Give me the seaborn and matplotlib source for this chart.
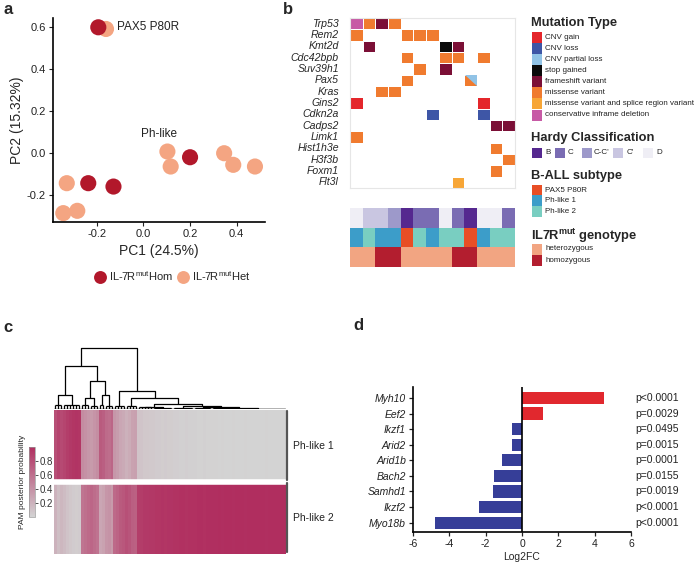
import numpy as np
import pandas as pd
import matplotlib
matplotlib.use('Agg')
import matplotlib.pyplot as plt
import seaborn as sns
import matplotlib.transforms as mtransforms
from matplotlib.colors import ListedColormap, LinearSegmentedColormap
from matplotlib.patches import Rectangle, Polygon

# ---------------- data ----------------
# panel a: PCA
pc1 = [-0.160, -0.328, -0.343, -0.283, 0.103, 0.117, 0.346, 0.385, 0.478, -0.193, -0.236, -0.128, 0.200]
pc2 = [0.589, -0.142, -0.284, -0.273, 0.008, -0.063, 0.000, -0.055, -0.063, 0.597, -0.142, -0.158, -0.019]
geno_a = ['Het', 'Het', 'Het', 'Het', 'Het', 'Het', 'Het', 'Het', 'Het', 'Hom', 'Hom', 'Hom', 'Hom']

# panel b: mutation matrix
genes_b = ['Trp53', 'Rem2', 'Kmt2d', 'Cdc42bpb', 'Suv39h1', 'Pax5', 'Kras', 'Gins2', 'Cdkn2a',
           'Cadps2', 'Limk1', 'Hist1h3e', 'H3f3b', 'Foxm1', 'Flt3l']
mut_types = ['CNV gain', 'CNV loss', 'CNV partial loss', 'stop gained', 'frameshift variant',
             'missense variant', 'missense variant and splice region variant',
             'conservative inframe deletion']
mut_colors = ['#E4262B', '#3E56A6', '#91C3E6', '#0A0A0A', '#7B0F36', '#F07B2F', '#F7A637', '#C75AA5']
mutations = [
    ('Trp53', 0, 'conservative inframe deletion'), ('Trp53', 1, 'missense variant'),
    ('Trp53', 2, 'frameshift variant'), ('Trp53', 3, 'missense variant'),
    ('Rem2', 0, 'missense variant'), ('Rem2', 4, 'missense variant'),
    ('Rem2', 5, 'missense variant'), ('Rem2', 6, 'missense variant'),
    ('Kmt2d', 1, 'frameshift variant'), ('Kmt2d', 7, 'stop gained'), ('Kmt2d', 8, 'frameshift variant'),
    ('Cdc42bpb', 4, 'missense variant'), ('Cdc42bpb', 7, 'missense variant'),
    ('Cdc42bpb', 8, 'missense variant'), ('Cdc42bpb', 10, 'missense variant'),
    ('Suv39h1', 5, 'missense variant'), ('Suv39h1', 7, 'frameshift variant'),
    ('Pax5', 4, 'missense variant'), ('Pax5', 9, 'missense variant'),
    ('Kras', 2, 'missense variant'), ('Kras', 3, 'missense variant'),
    ('Gins2', 0, 'CNV gain'), ('Gins2', 10, 'CNV gain'),
    ('Cdkn2a', 6, 'CNV loss'), ('Cdkn2a', 10, 'CNV loss'),
    ('Cadps2', 11, 'frameshift variant'), ('Cadps2', 12, 'frameshift variant'),
    ('Limk1', 0, 'missense variant'), ('Hist1h3e', 11, 'missense variant'),
    ('H3f3b', 12, 'missense variant'), ('Foxm1', 11, 'missense variant'),
    ('Flt3l', 8, 'missense variant and splice region variant'),
]
# second mutation in the same cell (drawn as the upper-right triangle)
split_cells = [('Pax5', 9, 'CNV partial loss')]

hardy = ['D', "C'", "C'", "C-C'", 'B', 'C', 'C', 'D', 'C', 'B', 'D', 'D', 'C']
subtype = ['Ph-like 1', 'Ph-like 2', 'Ph-like 1', 'Ph-like 1', 'PAX5 P80R', 'Ph-like 2', 'Ph-like 1',
           'Ph-like 2', 'Ph-like 2', 'PAX5 P80R', 'Ph-like 1', 'Ph-like 2', 'Ph-like 2']
geno_b = ['heterozygous', 'heterozygous', 'homozygous', 'homozygous', 'heterozygous', 'heterozygous',
          'heterozygous', 'heterozygous', 'homozygous', 'homozygous', 'heterozygous', 'heterozygous',
          'heterozygous']
hardy_levels = ['B', 'C', "C-C'", "C'", 'D']
hardy_colors = ['#55288F', '#7A6CB3', '#9D99CA', '#C9C6E1', '#EFEEF5']
subtype_levels = ['PAX5 P80R', 'Ph-like 1', 'Ph-like 2']
subtype_colors = ['#E84E25', '#3C9DC9', '#79CEC1']
geno_levels = ['heterozygous', 'homozygous']
geno_colors = ['#F2A582', '#B31E2F']

# panel c: PAM posterior probabilities, columns in dendrogram order
ph1_prob = [0.80, 0.87, 0.83,
            0.86, 0.90, 0.93, 0.95, 0.96, 0.95,
            0.43, 0.40, 0.36,
            0.34, 0.38, 0.42,
            0.73, 0.70,
            0.63, 0.61, 0.66,
            0.36, 0.33, 0.27, 0.25,
            0.21, 0.24, 0.30, 0.31,
            0.10, 0.09, 0.07, 0.07, 0.06,
            0.06, 0.05, 0.05, 0.04, 0.05, 0.04, 0.04,
            0.03, 0.03, 0.02, 0.02, 0.03, 0.02, 0.02,
            0.02, 0.01, 0.01, 0.02, 0.01, 0.01,
            0.01, 0.01, 0.00, 0.01, 0.00, 0.00,
            0.00, 0.01, 0.00, 0.00, 0.00, 0.01, 0.00, 0.00, 0.00, 0.00,
            0.00, 0.00, 0.01, 0.00, 0.00, 0.00, 0.00, 0.00, 0.00]
ph2_prob = [0.20, 0.13, 0.17,
            0.14, 0.10, 0.07, 0.05, 0.04, 0.05,
            0.57, 0.60, 0.64,
            0.66, 0.62, 0.58,
            0.27, 0.30,
            0.37, 0.39, 0.34,
            0.64, 0.67, 0.73, 0.75,
            0.79, 0.76, 0.70, 0.69,
            0.90, 0.91, 0.93, 0.93, 0.94,
            0.94, 0.95, 0.95, 0.96, 0.95, 0.96, 0.96,
            0.97, 0.97, 0.98, 0.98, 0.97, 0.98, 0.98,
            0.98, 0.99, 0.99, 0.98, 0.99, 0.99,
            0.99, 0.99, 1.00, 0.99, 1.00, 1.00,
            1.00, 0.99, 1.00, 1.00, 1.00, 0.99, 1.00, 1.00, 1.00, 1.00,
            1.00, 1.00, 0.99, 1.00, 1.00, 1.00, 1.00, 1.00, 1.00]
leaf_group_sizes = [3, 6, 3, 3, 2, 3, 4, 4, 5, 7, 7, 6, 6, 19]
comb_heights = [4, 4, 4, 3, 4, 3, 3, 3, 1.5, 1.2, 0.9, 0.7, 0.5, 0.4]
# (height, left, right); ints are leaf groups
tree = (59, (42, (14, 0, 1), (27, (11, 2, 3), (14, 4, 5))),
        (17, 6, (11, 7, (5, (2.2, 8, 9), (2.5, 10, (1.6, 11, (1.0, 12, 13)))))))

# panel d: differential expression
genes_d = ['Myh10', 'Eef2', 'Ikzf1', 'Arid2', 'Arid1b', 'Bach2', 'Samhd1', 'Ikzf2', 'Myo18b']
log2fc = [4.54, 1.14, -0.55, -0.55, -1.10, -1.56, -1.60, -2.35, -4.80]
pvals = ['p<0.0001', 'p=0.0029', 'p=0.0495', 'p=0.0015', 'p=0.0001', 'p=0.0155',
         'p=0.0019', 'p<0.0001', 'p<0.0001']

# ---------------- style ----------------
sns.set_theme(style='white')
plt.rcParams['font.family'] = ['Liberation Sans', 'DejaVu Sans']
plt.rcParams['mathtext.fontset'] = 'custom'
plt.rcParams['mathtext.rm'] = 'Liberation Sans'
plt.rcParams['mathtext.bf'] = 'Liberation Sans:bold'
plt.rcParams['axes.unicode_minus'] = False

W, H = 700, 562
fig = plt.figure(figsize=(W / 100, H / 100), dpi=100)


def px_axes(x0, y0, x1, y1):
    return fig.add_axes([x0 / W, 1 - y1 / H, (x1 - x0) / W, (y1 - y0) / H])


for lab, x, y in [('a', 3, 10), ('b', 283, 10), ('c', 3, 327), ('d', 353, 325)]:
    fig.text(x / W, 1 - y / H, lab, fontsize=12, fontweight='bold', va='center', ha='left')

# ---------------- panel a ----------------
ax_a = px_axes(53, 18, 265, 222)
pal_a = {'Hom': '#B2182B', 'Het': '#F4A582'}
sns.scatterplot(x=pc1, y=pc2, hue=geno_a, hue_order=['Hom', 'Het'], palette=pal_a,
                s=135, linewidth=0, alpha=1, ax=ax_a)
ax_a.set_xlim(-0.387, 0.521)
ax_a.set_ylim(-0.326, 0.641)
ax_a.set_xticks([-0.2, 0.0, 0.2, 0.4])
ax_a.set_yticks([-0.2, 0.0, 0.2, 0.4, 0.6])
ax_a.set_xticklabels(['-0.2', '0.0', '0.2', '0.4'])
ax_a.set_yticklabels(['-0.2', '0.0', '0.2', '0.4', '0.6'])
ax_a.tick_params(bottom=True, left=True, length=3, width=0.8, labelsize=8, pad=2, colors='#222222')
sns.despine(ax=ax_a)
for s in ['left', 'bottom']:
    ax_a.spines[s].set_color('black')
    ax_a.spines[s].set_linewidth(1.2)
ax_a.set_xlabel('PC1 (24.5%)', fontsize=10, labelpad=4)
ax_a.set_ylabel('PC2 (15.32%)', fontsize=10, labelpad=2)
ax_a.text(-0.114, 0.597, 'PAX5 P80R', fontsize=8.5, va='center', ha='left', color='#222222')
ax_a.text(0.069, 0.092, 'Ph-like', fontsize=8.5, va='center', ha='center', color='#222222')
handles, labels = ax_a.get_legend_handles_labels()
lab_map = {'Hom': r'IL-7R$^{\mathrm{mut}}$Hom', 'Het': r'IL-7R$^{\mathrm{mut}}$Het'}
ax_a.legend(handles, [lab_map[l] for l in labels], loc='center', bbox_to_anchor=(0.56, -0.265),
            ncol=2, frameon=False, fontsize=8, markerscale=0.8, handletextpad=0.2,
            handlelength=1.2, columnspacing=0.3, borderpad=0)

# ---------------- panel b ----------------
mat = np.full((len(genes_b), len(hardy)), np.nan)
for g, c, t in mutations:
    mat[genes_b.index(g), c] = mut_types.index(t)
mat_df = pd.DataFrame(mat, index=genes_b)
ax_m = px_axes(350, 18, 515, 188)
sns.heatmap(mat_df, mask=mat_df.isna(), cmap=ListedColormap(mut_colors), vmin=-0.5, vmax=7.5,
            cbar=False, linewidths=0.4, linecolor='white', xticklabels=False,
            yticklabels=genes_b, ax=ax_m)
for g, c, t in split_cells:
    r = genes_b.index(g)
    ax_m.add_patch(Polygon([(c + 0.03, r + 0.03), (c + 0.97, r + 0.03), (c + 0.97, r + 0.97)],
                           closed=True, facecolor=mut_colors[mut_types.index(t)], edgecolor='none'))
for s in ax_m.spines.values():
    s.set_visible(True)
    s.set_color('#E6E6E6')
    s.set_linewidth(0.8)
ax_m.tick_params(left=False, length=0, pad=8)
for t in ax_m.get_yticklabels():
    t.set_fontstyle('italic')
    t.set_fontsize(7.6)
    t.set_rotation(0)

ann = np.array([[hardy_levels.index(h) for h in hardy],
                [len(hardy_levels) + subtype_levels.index(s) for s in subtype],
                [len(hardy_levels) + len(subtype_levels) + geno_levels.index(g) for g in geno_b]])
ann_colors = hardy_colors + subtype_colors + geno_colors
ax_n = px_axes(350, 208, 515, 267)
sns.heatmap(ann, cmap=ListedColormap(ann_colors), vmin=-0.5, vmax=len(ann_colors) - 0.5,
            cbar=False, xticklabels=False, yticklabels=False, ax=ax_n)

# legends of panel b
ax_l = px_axes(525, 0, 700, 280)
ax_l.set_xlim(525, 700)
ax_l.set_ylim(280, 0)
ax_l.axis('off')
title_kw = dict(fontsize=9.3, fontweight='bold', va='center', ha='left')
item_kw = dict(fontsize=5.8, va='center', ha='left', color='#222222')
ax_l.text(531, 23, 'Mutation Type', **title_kw)
for i, (t, col) in enumerate(zip(mut_types, mut_colors)):
    yc = 37.3 + i * 11.1
    ax_l.add_patch(Rectangle((532, yc - 5.5), 10, 11.1, facecolor=col, edgecolor='none'))
    ax_l.text(545, yc, t, **item_kw)
ax_l.text(531, 138.5, 'Hardy Classification', **title_kw)
for lv, col, xs, xt in zip(hardy_levels, hardy_colors, [532, 555, 582, 613, 643],
                           [545, 568, 594, 627, 656]):
    ax_l.add_patch(Rectangle((xs, 147.5), 9.5, 10, facecolor=col, edgecolor='none'))
    ax_l.text(xt, 152.7, lv, **item_kw)
ax_l.text(531, 176, 'B-ALL subtype', **title_kw)
for i, (lv, col) in enumerate(zip(subtype_levels, subtype_colors)):
    yc = 190 + i * 10.7
    ax_l.add_patch(Rectangle((532, yc - 5.35), 10, 10.7, facecolor=col, edgecolor='none'))
    ax_l.text(545, yc, lv, **item_kw)
ax_l.text(531, 235.5, r'IL7R$^{\mathbf{mut}}$ genotype', **title_kw)
for i, (lv, col) in enumerate(zip(geno_levels, geno_colors)):
    yc = 249 + i * 11
    ax_l.add_patch(Rectangle((532, yc - 5.5), 10, 11, facecolor=col, edgecolor='none'))
    ax_l.text(545, yc, lv, **item_kw)

# ---------------- panel c ----------------
pam_df = pd.DataFrame([ph1_prob, ph2_prob], index=['Ph-like 1', 'Ph-like 2'])
n_cols = pam_df.shape[1]
pam_cmap = LinearSegmentedColormap.from_list('pam', ['#D3D3D3', '#B02E5F'])
ax_h = px_axes(54, 410, 286, 554)
cax = px_axes(29, 447, 35, 517)
sns.heatmap(pam_df, cmap=pam_cmap, vmin=0, vmax=1, cbar_ax=cax, xticklabels=False,
            yticklabels=False, ax=ax_h)
ax_h.axhline(1, color='white', lw=4)
cbar = ax_h.collections[0].colorbar
cbar.set_ticks([0.2, 0.4, 0.6, 0.8])
cbar.set_ticklabels(['0.2', '0.4', '0.6', '0.8'])
cbar.outline.set_edgecolor('#999999')
cbar.outline.set_linewidth(0.5)
cax.tick_params(right=True, length=2, width=0.6, labelsize=7, pad=1, colors='#333333')
cax.yaxis.set_label_position('left')
cax.set_ylabel('PAM posterior probability', fontsize=6, labelpad=2)
trans_h = mtransforms.blended_transform_factory(ax_h.transAxes, ax_h.transData)
for r, lab in enumerate(pam_df.index):
    ax_h.plot([1.006, 1.006], [r + 0.02, r + 0.97], transform=trans_h, color='#555555',
              lw=1.6, clip_on=False)
    ax_h.text(1.03, r + 0.5, lab, transform=trans_h, fontsize=7.5, va='center', ha='left',
              color='#222222')

ax_d = px_axes(54, 347, 286, 409)
ax_d.set_xlim(0, n_cols)
ax_d.set_ylim(0, 60)
ax_d.axis('off')
group_starts = np.concatenate([[0], np.cumsum(leaf_group_sizes)[:-1]])
line_kw = dict(color='black', lw=0.9, solid_capstyle='butt')


def draw_tree(node):
    if isinstance(node, int):
        n, s, h = leaf_group_sizes[node], group_starts[node], comb_heights[node]
        xs = [s + k + 0.5 for k in range(n)]
        for x in xs:
            ax_d.plot([x, x], [0, h], **line_kw)
        if n > 1:
            ax_d.plot([xs[0], xs[-1]], [h, h], **line_kw)
        return (xs[0] + xs[-1]) / 2, h
    h, left, right = node
    xl, hl = draw_tree(left)
    xr, hr = draw_tree(right)
    ax_d.plot([xl, xl, xr, xr], [hl, h, h, hr], **line_kw)
    return (xl + xr) / 2, h


draw_tree(tree)
ax_d.plot([0, n_cols], [0, 0], color='black', lw=1.0)

# ---------------- panel d ----------------
ax_e = px_axes(413, 387, 631, 532)
bar_colors = ['#E1282E' if v > 0 else '#363E98' for v in log2fc]
sns.barplot(x=log2fc, y=genes_d, orient='h', width=0.78, color='#363E98', saturation=1,
            linewidth=0, edgecolor='none', ax=ax_e)
for patch, col in zip(ax_e.patches, bar_colors):
    patch.set_facecolor(col)
ax_e.axvline(0, color='black', lw=1.2)
ax_e.set_xlim(-6, 6)
ax_e.set_ylim(8.6, -0.7)
ax_e.set_xticks([-6, -4, -2, 0, 2, 4, 6])
ax_e.set_xticklabels(['-6', '-4', '-2', '0', '2', '4', '6'])
sns.despine(ax=ax_e)
for s in ['left', 'bottom']:
    ax_e.spines[s].set_color('black')
    ax_e.spines[s].set_linewidth(1.2)
ax_e.tick_params(bottom=True, left=True, length=3, width=0.9, labelsize=7.5, pad=2,
                 colors='#222222')
for t in ax_e.get_yticklabels():
    t.set_fontstyle('italic')
ax_e.set_xlabel('Log2FC', fontsize=7.5, labelpad=2)
trans_e = mtransforms.blended_transform_factory(ax_e.transAxes, ax_e.transData)
for i, p in enumerate(pvals):
    ax_e.text(1.02, i, p, transform=trans_e, fontsize=7.5, va='center', ha='left', color='#222222')

fig.savefig('out.png', dpi=100)
